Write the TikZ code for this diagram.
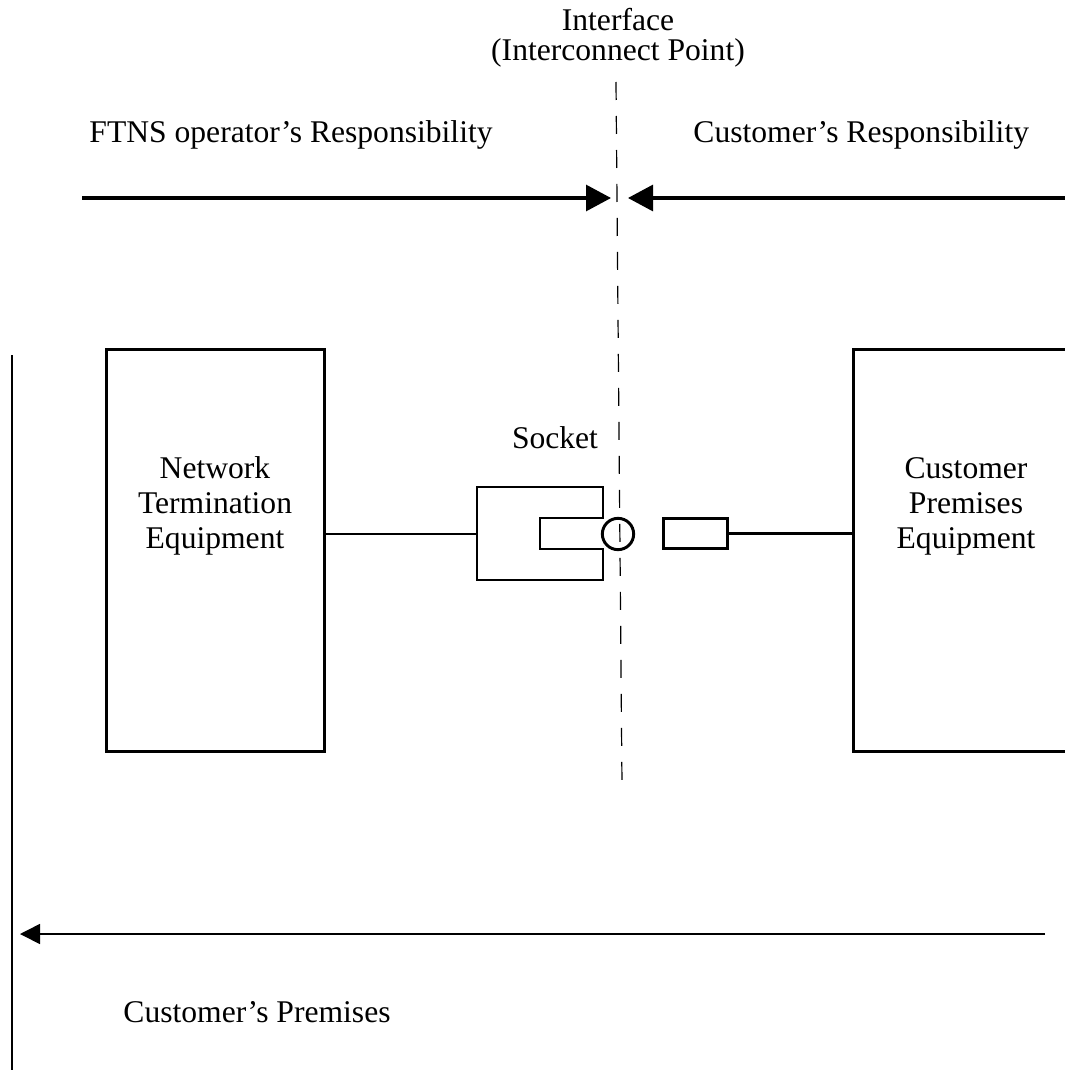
\documentclass[tikz,border=0pt]{standalone}
\usepackage{fontspec}
\setmainfont{Liberation Serif}
\usetikzlibrary{arrows.meta,positioning}

\begin{document}
\begin{tikzpicture}[x=.75pt,y=-.75pt,line width=2.2pt,
  every node/.style={font=\fontsize{23.7}{26.25}\selectfont,inner sep=0pt},
  eqbox/.style={draw,minimum width=163.5pt,minimum height=301.5pt,anchor=north west},
  eqtext/.style={align=center},
  resp/.style={-{Triangle[length=18.75pt,width=19.5pt]},line width=2.3pt}]
\path[use as bounding box] (0,0) rectangle (1064,1070);
% interface line
\node[align=center,anchor=north,font=\fontsize{23.7}{22.5}\selectfont] (iface) at (618,6.5) {Interface\\(Interconnect Point)};
\coordinate (iftop) at (616,82);
\coordinate (ifbot) at (622,785);
\draw[dash pattern=on 13.5pt off 12pt,line width=.9pt] (iftop) -- (ifbot);
% responsibilities
\node[anchor=base west] (opresp) at (88,143) {FTNS operator's Responsibility};
\node[anchor=base west] (custresp) at (692,143) {Customer's Responsibility};
\coordinate (opstart) at (82,198);
\coordinate (opend) at (611,198);
\coordinate (custstart) at (1066,198);
\coordinate (custend) at (628,198);
\draw[resp] (opstart) -- (opend);
\draw[resp] (custstart) -- (custend);
% equipment
\node[eqbox] (nte) at (105,348) {};
\node[eqtext] (ntetext) at (215,506) {Network\\Termination\\Equipment};
\node[eqbox,minimum width=166pt] (cpe) at (852,348) {};
\node[eqtext] (cpetext) at (966,506) {Customer\\Premises\\Equipment};
% socket and plug
\node[anchor=base] (socktext) at (555,448) {Socket};
\coordinate (sockin) at (477,534);
\draw (603,487) -- (477,487) -- (477,580) -- (603,580) -- (603,549)
  -- (540,549) -- (540,518) -- (603,518) -- cycle;
\node[draw,circle,minimum size=23.5pt] (jack) at (618,534) {};
\node[draw,minimum width=47.5pt,minimum height=22.5pt] (plug) at (695.5,533.5) {};
\draw (sockin -| nte.east) -- (sockin);
\draw (plug.east) -- (plug.east -| cpe.west);
% premises
\coordinate (premtop) at (12,355);
\coordinate (prembot) at (12,1072);
\draw (premtop) -- (prembot);
\coordinate (premstart) at (1045,934);
\coordinate (premend) at (20,934);
\draw[-{Triangle[length=15pt,width=15pt]},line width=1.2pt] (premstart) -- (premend);
\node[anchor=base west] (premtext) at (122,1022) {Customer's Premises};
\end{tikzpicture}
\end{document}
